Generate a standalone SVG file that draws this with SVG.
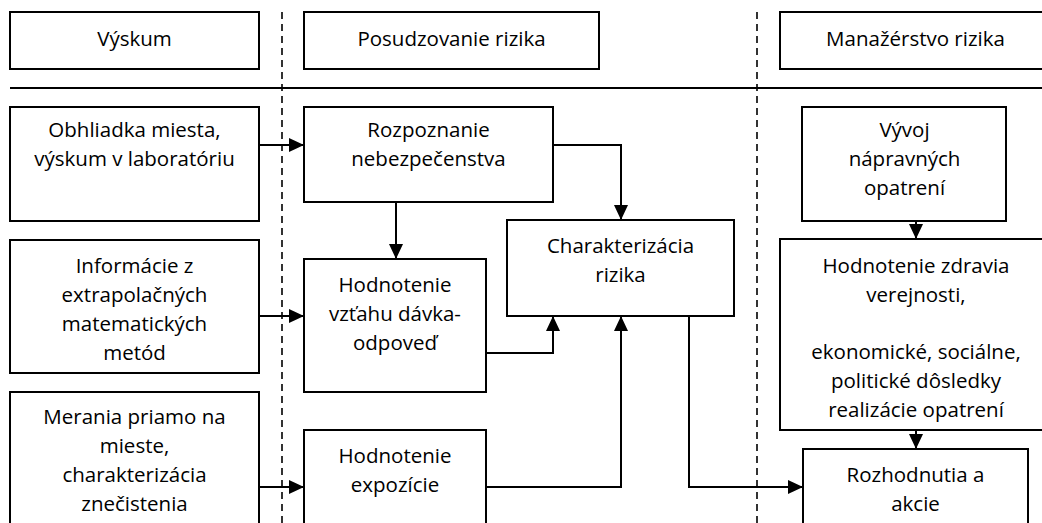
<svg xmlns="http://www.w3.org/2000/svg" width="1042" height="523" viewBox="0 0 1042 523">
<style>
.box{fill:#fff;stroke:#000;stroke-width:2}
.t{font-family:"Open Sans","Noto Sans","Liberation Sans",sans-serif;font-size:20.5px;fill:#000;text-anchor:middle}
.c{fill:none;stroke:#000;stroke-width:2;marker-end:url(#ah)}
.d{stroke:#000;stroke-width:1.6;stroke-dasharray:7 5}
</style>
<defs>
<marker id="ah" markerUnits="userSpaceOnUse" markerWidth="16" markerHeight="16" refX="15" refY="7" orient="auto">
<path d="M0,0 L15,7 L0,14 Z" fill="#000"/>
</marker>
</defs>
<rect width="1042" height="523" fill="#fff"/>
<g id="dividers">
<line class="d" x1="282" y1="12" x2="282" y2="523"/>
<line class="d" x1="757" y1="12" x2="757" y2="523"/>
<line x1="10" y1="88" x2="1042" y2="88" stroke="#000" stroke-width="2"/>
</g>
<g id="h-vyskum"><rect class="box" x="10" y="12" width="249" height="57"/><text class="t" x="134.5" y="46">Výskum</text></g>
<g id="h-posudzovanie"><rect class="box" x="304" y="12" width="295" height="57"/><text class="t" x="451.5" y="46">Posudzovanie rizika</text></g>
<g id="h-manazerstvo"><rect class="box" x="780" y="12" width="280" height="57"/><text class="t" x="915.5" y="46">Manažérstvo rizika</text></g>
<g id="obhliadka"><rect class="box" x="10" y="107" width="249" height="114"/><text class="t" x="134.5" y="137">Obhliadka miesta,</text><text class="t" x="134.5" y="166">výskum v laboratóriu</text></g>
<g id="rozpoznanie"><rect class="box" x="304" y="107" width="249" height="95"/><text class="t" x="428.5" y="137">Rozpoznanie</text><text class="t" x="428.5" y="166">nebezpečenstva</text></g>
<g id="vyvoj"><rect class="box" x="802" y="107" width="204" height="114"/><text class="t" x="904.5" y="137">Vývoj</text><text class="t" x="904.5" y="166">nápravných</text><text class="t" x="904.5" y="195">opatrení</text></g>
<g id="charakterizacia"><rect class="box" x="507" y="220" width="227" height="96"/><text class="t" x="620.5" y="253">Charakterizácia</text><text class="t" x="620.5" y="282">rizika</text></g>
<g id="informacie"><rect class="box" x="10" y="240" width="249" height="133"/><text class="t" x="134.5" y="273">Informácie z</text><text class="t" x="134.5" y="302">extrapolačných</text><text class="t" x="134.5" y="331">matematických</text><text class="t" x="134.5" y="360">metód</text></g>
<g id="davka"><rect class="box" x="304" y="259" width="182" height="133"/><text class="t" x="395" y="292">Hodnotenie</text><text class="t" x="395" y="321">vzťahu dávka-</text><text class="t" x="395" y="350">odpoveď</text></g>
<g id="zdravie"><rect class="box" x="780" y="239" width="280" height="191"/><text class="t" x="916" y="273">Hodnotenie zdravia</text><text class="t" x="916" y="302">verejnosti,</text><text class="t" x="916" y="359">ekonomické, sociálne,</text><text class="t" x="916" y="388">politické dôsledky</text><text class="t" x="916" y="417">realizácie opatrení</text></g>
<g id="merania"><rect class="box" x="10" y="392" width="249" height="150"/><text class="t" x="134.5" y="424">Merania priamo na</text><text class="t" x="134.5" y="453">mieste,</text><text class="t" x="134.5" y="482">charakterizácia</text><text class="t" x="134.5" y="511">znečistenia</text></g>
<g id="expozicia"><rect class="box" x="304" y="430" width="182" height="110"/><text class="t" x="395" y="463">Hodnotenie</text><text class="t" x="395" y="492">expozície</text></g>
<g id="rozhodnutia"><rect class="box" x="803" y="449" width="225" height="90"/><text class="t" x="915.5" y="482">Rozhodnutia a</text><text class="t" x="915.5" y="511">akcie</text></g>
<g id="connectors">
<path class="c" d="M259,145 H304"/>
<path class="c" d="M259,316 H304"/>
<path class="c" d="M259,487 H304"/>
<path class="c" d="M396,202 V259"/>
<path class="c" d="M553,145 H621 V220"/>
<path class="c" d="M486,353 H553 V316"/>
<path class="c" d="M486,487 H621 V316"/>
<path class="c" d="M689,316 V487 H803"/>
<path class="c" d="M916,221 V239"/>
<path class="c" d="M916,430 V449"/>
</g>
</svg>
